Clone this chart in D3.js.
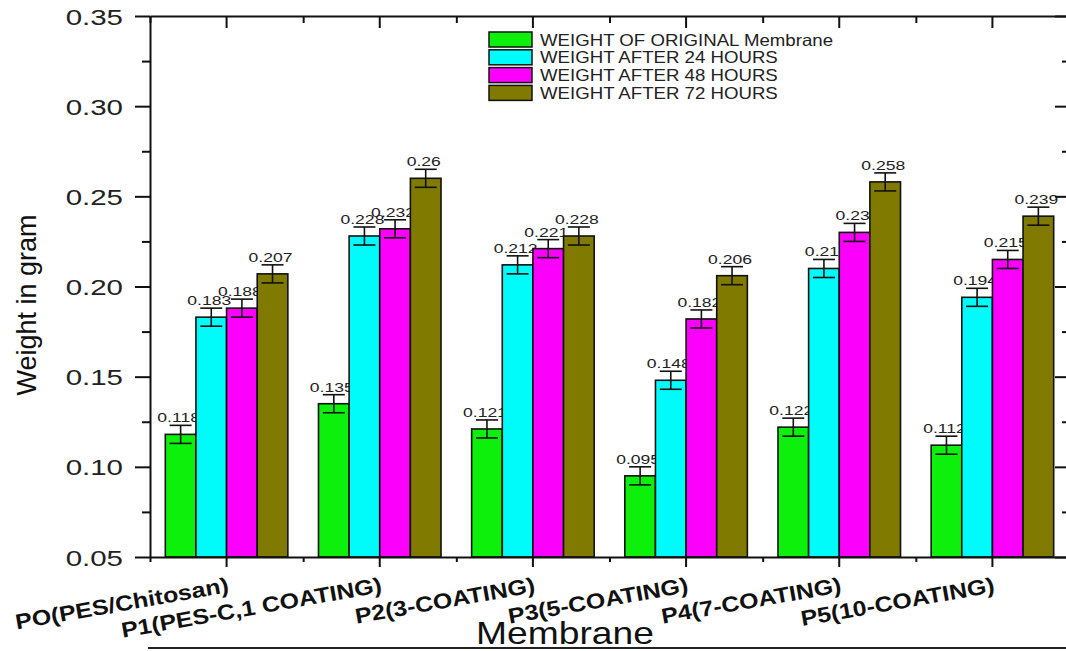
<!DOCTYPE html>
<html>
<head>
<meta charset="utf-8">
<script src="https://cdn.jsdelivr.net/npm/d3@7/dist/d3.min.js"></script>
<style>
  html, body { margin: 0; padding: 0; background: #fff; }
  svg { display: block; font-family: "Liberation Sans", Arial, Helvetica, sans-serif; }
</style>
</head>
<body>
<svg id="chart" width="1066" height="651"></svg>
<script>
// Membrane weight over time (grams)
const categories = ["PO(PES/Chitosan)", "P1(PES-C,1 COATING)", "P2(3-COATING)",
                    "P3(5-COATING)", "P4(7-COATING)", "P5(10-COATING)"];
const seriesNames = ["WEIGHT OF ORIGINAL Membrane", "WEIGHT AFTER 24 HOURS",
                     "WEIGHT AFTER 48 HOURS", "WEIGHT AFTER 72 HOURS"];
const originalWeight = [0.118, 0.135, 0.121, 0.095, 0.122, 0.112];
const after24h       = [0.183, 0.228, 0.212, 0.148, 0.210, 0.194];
const after48h       = [0.188, 0.232, 0.221, 0.182, 0.230, 0.215];
const after72h       = [0.207, 0.260, 0.228, 0.206, 0.258, 0.239];
const errorHalf      = [0.005, 0.005, 0.005, 0.005];
const seriesColors   = ["#0cf00c", "#00fbfb", "#fb00fb", "#807a00"];
const yMajorTicks = [0.05, 0.10, 0.15, 0.20, 0.25, 0.30, 0.35];
const yMinorTicks = [0.075, 0.125, 0.175, 0.225, 0.275, 0.325];
const yTickLabels = ["0.05", "0.10", "0.15", "0.20", "0.25", "0.30", "0.35"];
const xTitle = "Membrane";
const yTitle = "Weight in gram";

const seriesValues = [originalWeight, after24h, after48h, after72h];

const svg = d3.select("#chart");
const plotLeft = 150, plotRight = 1069, plotTop = 16, plotBottom = 557;

const x = d3.scaleBand().domain(categories).range([plotLeft, plotRight]).padding(0);
const xEdge = d3.scaleLinear().domain([0, categories.length]).range([plotLeft, plotRight]);
const groupPad = x.bandwidth() * 0.1;
const xs = d3.scaleBand().domain(seriesNames).range([0, x.bandwidth() * 0.8]).padding(0);
const y = d3.scaleLinear().domain([0.05, 0.35]).range([plotBottom, plotTop]);

// ---- bars, error bars and value labels, one series after another ----
seriesNames.forEach((name, si) => {
  const vals = seriesValues[si];
  const err = errorHalf[si];
  const g = svg.append("g").attr("class", "series");
  const data = categories.map((c, ci) => ({ c, v: vals[ci] }));
  const bx = d => x(d.c) + groupPad + xs(name);
  const bw = xs.bandwidth();

  g.selectAll("rect").data(data).join("rect")
    .attr("x", bx)
    .attr("y", d => y(d.v))
    .attr("width", bw)
    .attr("height", d => y(0.05) - y(d.v))
    .attr("fill", seriesColors[si])
    .attr("stroke", "#111")
    .attr("stroke-width", 1.6);

  const eb = g.selectAll("g.err").data(data).join("g").attr("class", "err")
    .attr("stroke", "#111").attr("stroke-width", 1.6);
  eb.append("line")
    .attr("x1", d => bx(d) + bw / 2).attr("x2", d => bx(d) + bw / 2)
    .attr("y1", d => y(d.v - err)).attr("y2", d => y(d.v + err));
  eb.append("line")
    .attr("x1", d => bx(d) + bw / 2 - 11).attr("x2", d => bx(d) + bw / 2 + 11)
    .attr("y1", d => y(d.v + err)).attr("y2", d => y(d.v + err));
  eb.append("line")
    .attr("x1", d => bx(d) + bw / 2 - 11).attr("x2", d => bx(d) + bw / 2 + 11)
    .attr("y1", d => y(d.v - err)).attr("y2", d => y(d.v - err));

  g.selectAll("text").data(data).join("text")
    .attr("text-anchor", "middle")
    .attr("font-size", 13)
    .attr("fill", "#222")
    .attr("transform", d => `translate(${bx(d) + bw / 2 - 2},${y(d.v + err) - 3}) scale(1.35,1)`)
    .text(d => String(d.v));
});

// ---- axes ----
const axisStyle = g => {
  g.select(".domain").attr("stroke", "#111").attr("stroke-width", 2);
  g.selectAll(".tick line").attr("stroke", "#111").attr("stroke-width", 2);
};

// left: outward ticks with labels
svg.append("g").attr("transform", `translate(${plotLeft},0)`)
  .call(d3.axisLeft(y).tickValues(yMajorTicks).tickSize(15).tickSizeOuter(0)
        .tickFormat((d, i) => yTickLabels[i]))
  .call(axisStyle)
  .call(g => g.selectAll(".tick text")
    .attr("x", 0).attr("dy", null)
    .attr("font-size", 22).attr("fill", "#222")
    .attr("font-family", "Liberation Sans, Arial, sans-serif")
    .attr("transform", "translate(-27,8) scale(1.34,1)"));
svg.append("g").attr("transform", `translate(${plotLeft},0)`)
  .call(d3.axisLeft(y).tickValues(yMinorTicks).tickSize(8).tickFormat(""))
  .call(axisStyle).call(g => g.select(".domain").remove());

// right: inward ticks, no labels
svg.append("g").attr("transform", `translate(${plotRight},0)`)
  .call(d3.axisRight(y).tickValues(yMajorTicks).tickSize(-14).tickSizeOuter(0).tickFormat(""))
  .call(axisStyle);
svg.append("g").attr("transform", `translate(${plotRight},0)`)
  .call(d3.axisRight(y).tickValues(yMinorTicks).tickSize(-7).tickFormat(""))
  .call(axisStyle).call(g => g.select(".domain").remove());

// bottom: outward ticks at group centres, short ticks at group edges
svg.append("g").attr("transform", `translate(0,${plotBottom})`)
  .call(d3.axisBottom(x).tickSize(10).tickSizeOuter(0))
  .call(axisStyle)
  .call(g => g.selectAll(".tick text")
    .attr("x", 0).attr("y", 0).attr("dy", null)
    .attr("text-anchor", "end")
    .attr("font-size", 21.5).attr("font-weight", "bold").attr("fill", "#111")
    .attr("font-family", "Liberation Sans, Arial, sans-serif")
    .attr("transform", "translate(3,35) rotate(-10) scale(1.16,1)"));
svg.append("g").attr("transform", `translate(0,${plotBottom})`)
  .call(d3.axisBottom(xEdge).tickValues(d3.range(categories.length + 1)).tickSize(5).tickFormat(""))
  .call(axisStyle).call(g => g.select(".domain").remove());

// top: inward ticks
svg.append("g").attr("transform", `translate(0,${plotTop})`)
  .call(d3.axisTop(x).tickSize(-12).tickSizeOuter(0).tickFormat(""))
  .call(axisStyle);
svg.append("g").attr("transform", `translate(0,${plotTop})`)
  .call(d3.axisTop(xEdge).tickValues(d3.range(categories.length + 1)).tickSize(-7).tickFormat(""))
  .call(axisStyle).call(g => g.select(".domain").remove());

// rule under the x title
svg.append("line")
  .attr("x1", 148).attr("x2", 1066).attr("y1", 648).attr("y2", 648)
  .attr("stroke", "#222").attr("stroke-width", 2);

// ---- titles ----
svg.append("text")
  .attr("text-anchor", "middle")
  .attr("font-size", 31).attr("fill", "#111")
  .attr("transform", "translate(565,644) scale(1.2,1)")
  .text(xTitle);

svg.append("text")
  .attr("text-anchor", "middle")
  .attr("font-size", 27).attr("fill", "#111")
  .attr("transform", "translate(36,305) rotate(-90)")
  .text(yTitle);

// ---- legend ----
const legend = svg.append("g").attr("transform", "translate(489,32)");
seriesNames.forEach((name, i) => {
  const row = legend.append("g").attr("transform", `translate(0,${i * 17.8})`);
  row.append("rect")
    .attr("width", 43).attr("height", 15)
    .attr("fill", seriesColors[i]).attr("stroke", "#111").attr("stroke-width", 1.5);
  row.append("text")
    .attr("font-size", 16.5).attr("fill", "#222")
    .attr("transform", "translate(51,13.5) scale(1.13,1)")
    .text(name);
});
</script>
</body>
</html>
